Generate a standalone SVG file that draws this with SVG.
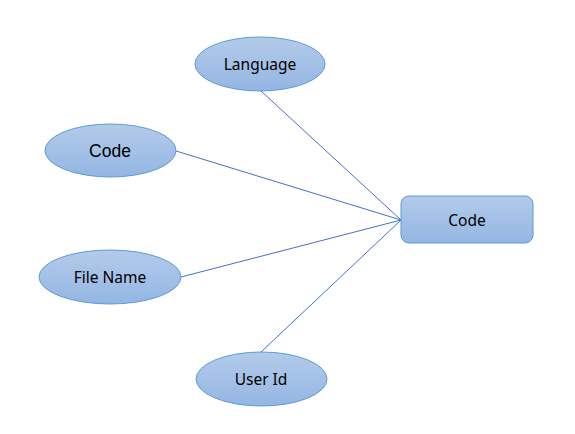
<svg xmlns="http://www.w3.org/2000/svg" width="575" height="434" viewBox="0 0 575 434">
<defs>
<linearGradient id="g" x1="0" y1="0" x2="0" y2="1">
<stop offset="0" stop-color="#b3cbea"/>
<stop offset="1" stop-color="#94b6e3"/>
</linearGradient>
<style>
.shape{fill:url(#g);stroke:#5b9bd5;stroke-width:1}
.t{font-family:"Noto Sans","Open Sans",sans-serif;font-size:15.5px;fill:#000;text-anchor:middle;dominant-baseline:central}
.ta{font-family:"Liberation Sans",Arial,sans-serif;font-size:17.5px;fill:#000;text-anchor:middle;dominant-baseline:central}
.c{stroke:#4472c4;stroke-width:1;fill:none}
</style>
</defs>
<rect width="575" height="434" fill="#fff"/>
<g id="connectors">
<line class="c" x1="261" y1="91" x2="401" y2="220"/>
<line class="c" x1="176" y1="151" x2="401" y2="220"/>
<line class="c" x1="181" y1="277" x2="401" y2="220"/>
<line class="c" x1="261" y1="352" x2="401" y2="220"/>
</g>
<g id="language">
<ellipse class="shape" cx="260" cy="64" rx="65" ry="27"/>
<text class="t" x="260" y="64">Language</text>
</g>
<g id="code-attr">
<ellipse class="shape" cx="110.5" cy="150.5" rx="65.5" ry="26.5"/>
<text class="ta" x="110" y="151">Code</text>
</g>
<g id="filename">
<ellipse class="shape" cx="110" cy="277" rx="71" ry="27"/>
<text class="t" x="110" y="277">File Name</text>
</g>
<g id="userid">
<ellipse class="shape" cx="261.5" cy="379" rx="65.5" ry="27"/>
<text class="t" x="261" y="379">User Id</text>
</g>
<g id="code-entity">
<rect class="shape" x="401" y="196" width="132" height="47" rx="8" ry="8"/>
<text class="t" x="467" y="220">Code</text>
</g>
</svg>
